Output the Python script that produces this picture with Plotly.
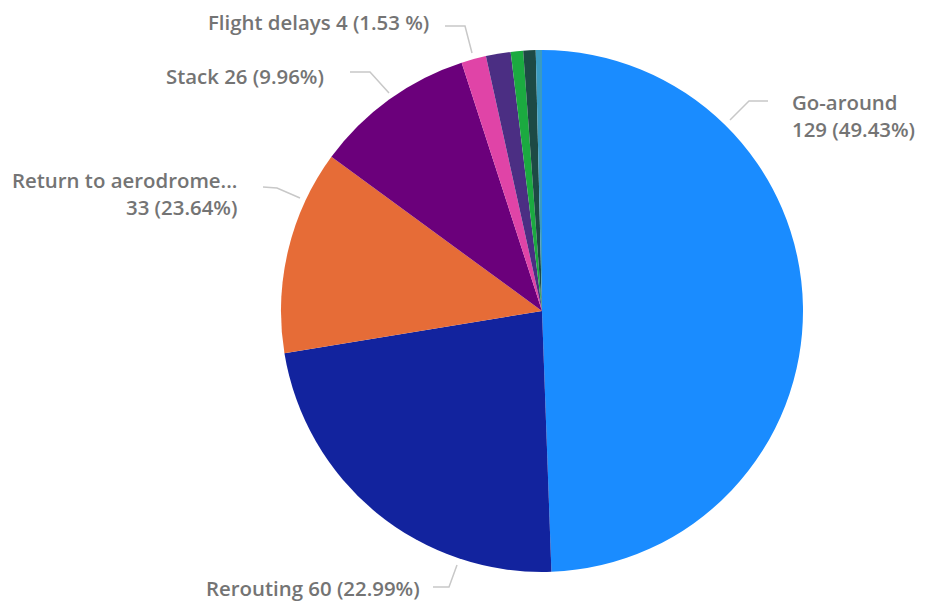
import plotly.graph_objects as go

W, H = 926, 605
OFF = 8  # page body margin in the browser

# Data
categories = ["Go-around", "Rerouting", "Return to aerodrome", "Stack", "Flight delays",
              "Other A", "Other B", "Other C", "Other D"]
values = [129, 60, 33, 26, 4, 4, 2, 2, 1]
colors = ["#1A8CFF", "#12239E", "#E66C37", "#6B007B", "#E044A7",
          "#4B2E83", "#1BAA40", "#1D4A45", "#3A9BC0"]

# Label texts as shown in the chart
label_texts = {
    "Go-around": "Go-around<br>129 (49.43%)",
    "Rerouting": "Rerouting 60 (22.99%)",
    "Return to aerodrome": "Return to aerodrome...<br>33 (23.64%)",
    "Stack": "Stack 26 (9.96%)",
    "Flight delays": "Flight delays 4 (1.53 %)",
}

cx, cy, r = 542, 311, 261

def px(x):
    return (x - OFF) / W

def py(y):
    return 1 - (y - OFF) / H

fig = go.Figure(go.Pie(
    labels=categories,
    values=values,
    marker=dict(colors=colors, line=dict(width=0)),
    sort=False,
    direction="clockwise",
    rotation=0,
    textinfo="none",
    hoverinfo="label+value+percent",
    domain=dict(x=[px(cx - r), px(cx + r)], y=[py(cy + r), py(cy - r)]),
    showlegend=False,
))

font = dict(family="Open Sans", size=20.4, color="#747474", weight=600)

# label placements (pixel positions of text anchor) and leader lines
placements = [
    ("Go-around", 790, 116, "left", [(730, 120), (749, 101), (768, 101)]),
    ("Rerouting", 422, 588, "right", [(457, 565), (449, 587), (433, 587)]),
    ("Return to aerodrome", 239, 193, "right", [(300, 198), (277, 188), (263, 187)]),
    ("Stack", 326, 76, "right", [(389, 93), (370, 72), (350, 72)]),
    ("Flight delays", 431, 22, "right", [(472, 53), (465, 26), (445, 26)]),
]

shapes = []
annotations = []
for name, tx, ty, align, pts in placements:
    path = "M " + " L ".join(f"{px(x)},{py(y)}" for x, y in pts)
    shapes.append(dict(type="path", xref="paper", yref="paper", path=path,
                       line=dict(color="#C8C8C8", width=1.5)))
    annotations.append(dict(
        x=px(tx), y=py(ty), xref="paper", yref="paper",
        text=label_texts[name], showarrow=False,
        xanchor=align, yanchor="middle", align=align,
        font=font,
    ))

fig.update_layout(
    width=W, height=H,
    margin=dict(l=0, r=0, t=0, b=0),
    paper_bgcolor="white",
    plot_bgcolor="white",
    shapes=shapes,
    annotations=annotations,
)

fig.write_html("out.html")
